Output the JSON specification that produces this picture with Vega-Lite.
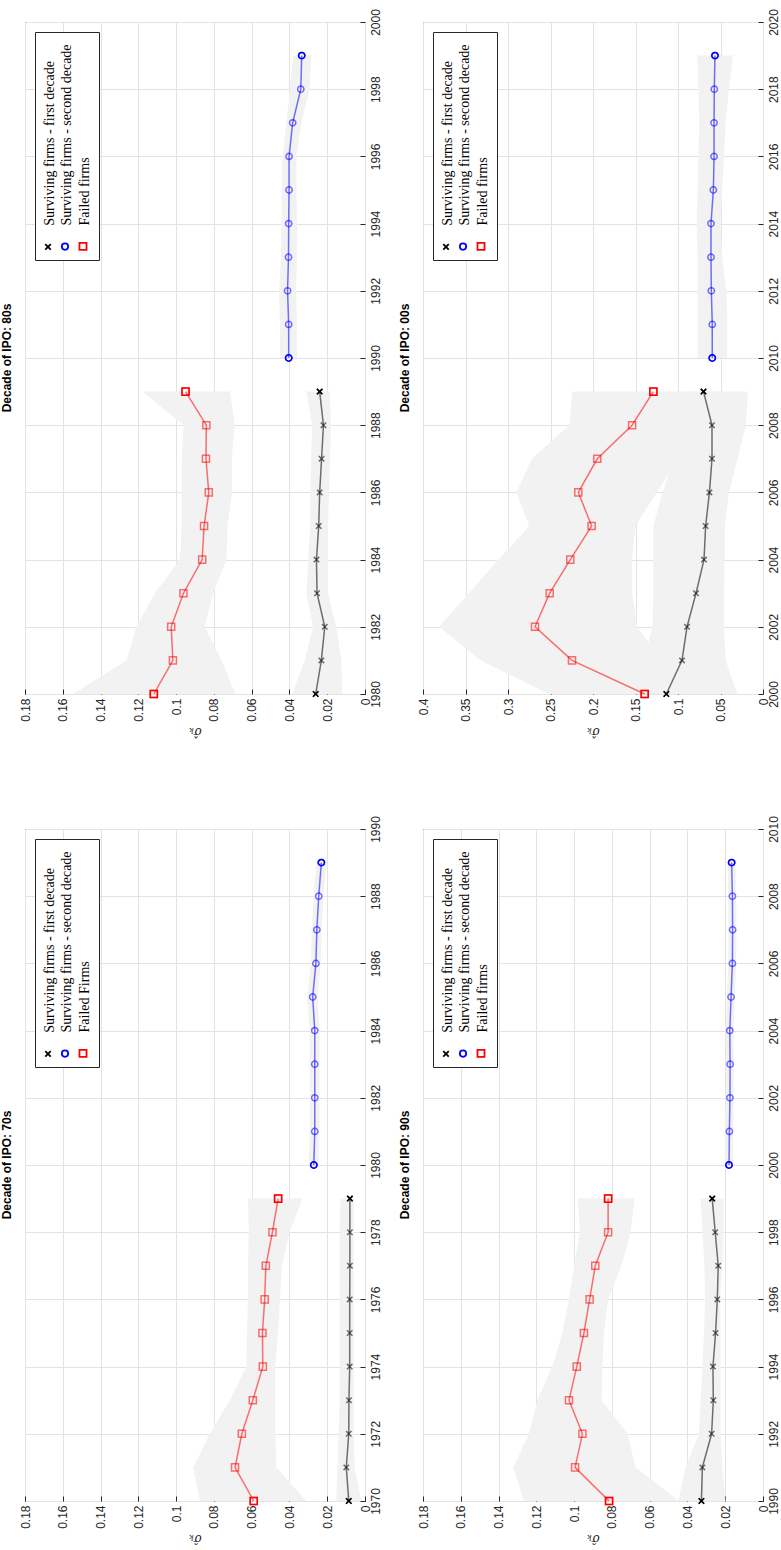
{
  "$schema": "https://vega.github.io/schema/vega-lite/v6.json",
  "background": "white",
  "padding": {"left": 0, "top": 8, "right": 0, "bottom": 0},
  "datasets": {
    "sig": [
      {"d":"70s","s":"first","year":1970,"v":0.0086,"lo":0.002,"hi":0.0152},
      {"d":"70s","s":"first","year":1971,"v":0.0099,"lo":0.0055,"hi":0.0146},
      {"d":"70s","s":"first","year":1972,"v":0.0086,"lo":0.006,"hi":0.014},
      {"d":"70s","s":"first","year":1973,"v":0.0085,"lo":0.006,"hi":0.0134},
      {"d":"70s","s":"first","year":1974,"v":0.0081,"lo":0.006,"hi":0.0134},
      {"d":"70s","s":"first","year":1975,"v":0.0081,"lo":0.006,"hi":0.0134},
      {"d":"70s","s":"first","year":1976,"v":0.0081,"lo":0.006,"hi":0.0134},
      {"d":"70s","s":"first","year":1977,"v":0.008,"lo":0.006,"hi":0.0134},
      {"d":"70s","s":"first","year":1978,"v":0.008,"lo":0.006,"hi":0.0134},
      {"d":"70s","s":"first","year":1979,"v":0.008,"lo":0.006,"hi":0.013},
      {"d":"70s","s":"second","year":1980,"v":0.0271,"lo":0.0245,"hi":0.0298},
      {"d":"70s","s":"second","year":1981,"v":0.0266,"lo":0.024,"hi":0.0293},
      {"d":"70s","s":"second","year":1982,"v":0.0266,"lo":0.024,"hi":0.0293},
      {"d":"70s","s":"second","year":1983,"v":0.0266,"lo":0.024,"hi":0.0293},
      {"d":"70s","s":"second","year":1984,"v":0.0266,"lo":0.024,"hi":0.0293},
      {"d":"70s","s":"second","year":1985,"v":0.0277,"lo":0.025,"hi":0.0305},
      {"d":"70s","s":"second","year":1986,"v":0.026,"lo":0.0235,"hi":0.0287},
      {"d":"70s","s":"second","year":1987,"v":0.0255,"lo":0.023,"hi":0.0282},
      {"d":"70s","s":"second","year":1988,"v":0.0245,"lo":0.022,"hi":0.0272},
      {"d":"70s","s":"second","year":1989,"v":0.0231,"lo":0.0205,"hi":0.0258},
      {"d":"70s","s":"failed","year":1970,"v":0.0589,"lo":0.031,"hi":0.0874},
      {"d":"70s","s":"failed","year":1971,"v":0.0688,"lo":0.0469,"hi":0.091},
      {"d":"70s","s":"failed","year":1972,"v":0.0652,"lo":0.0476,"hi":0.0822},
      {"d":"70s","s":"failed","year":1973,"v":0.0594,"lo":0.0476,"hi":0.0716},
      {"d":"70s","s":"failed","year":1974,"v":0.0541,"lo":0.0476,"hi":0.0628},
      {"d":"70s","s":"failed","year":1975,"v":0.0543,"lo":0.046,"hi":0.0625},
      {"d":"70s","s":"failed","year":1976,"v":0.0531,"lo":0.0451,"hi":0.062},
      {"d":"70s","s":"failed","year":1977,"v":0.0525,"lo":0.044,"hi":0.062},
      {"d":"70s","s":"failed","year":1978,"v":0.049,"lo":0.04,"hi":0.0615},
      {"d":"70s","s":"failed","year":1979,"v":0.046,"lo":0.033,"hi":0.062},

      {"d":"80s","s":"first","year":1980,"v":0.0261,"lo":0.012,"hi":0.0384},
      {"d":"80s","s":"first","year":1981,"v":0.0231,"lo":0.0125,"hi":0.0319},
      {"d":"80s","s":"first","year":1982,"v":0.0213,"lo":0.0152,"hi":0.0275},
      {"d":"80s","s":"first","year":1983,"v":0.0254,"lo":0.0196,"hi":0.031},
      {"d":"80s","s":"first","year":1984,"v":0.0257,"lo":0.0196,"hi":0.0301},
      {"d":"80s","s":"first","year":1985,"v":0.0245,"lo":0.0196,"hi":0.029},
      {"d":"80s","s":"first","year":1986,"v":0.024,"lo":0.019,"hi":0.029},
      {"d":"80s","s":"first","year":1987,"v":0.023,"lo":0.0185,"hi":0.0285},
      {"d":"80s","s":"first","year":1988,"v":0.022,"lo":0.018,"hi":0.028},
      {"d":"80s","s":"first","year":1989,"v":0.024,"lo":0.0187,"hi":0.031},
      {"d":"80s","s":"second","year":1990,"v":0.0404,"lo":0.036,"hi":0.045},
      {"d":"80s","s":"second","year":1991,"v":0.0404,"lo":0.036,"hi":0.045},
      {"d":"80s","s":"second","year":1992,"v":0.041,"lo":0.0365,"hi":0.0455},
      {"d":"80s","s":"second","year":1993,"v":0.0405,"lo":0.036,"hi":0.0445},
      {"d":"80s","s":"second","year":1994,"v":0.0404,"lo":0.036,"hi":0.0442},
      {"d":"80s","s":"second","year":1995,"v":0.0402,"lo":0.0363,"hi":0.0442},
      {"d":"80s","s":"second","year":1996,"v":0.0402,"lo":0.0363,"hi":0.0437},
      {"d":"80s","s":"second","year":1997,"v":0.0383,"lo":0.0337,"hi":0.0416},
      {"d":"80s","s":"second","year":1998,"v":0.034,"lo":0.0293,"hi":0.0398},
      {"d":"80s","s":"second","year":1999,"v":0.0335,"lo":0.0284,"hi":0.0381},
      {"d":"80s","s":"failed","year":1980,"v":0.1118,"lo":0.0686,"hi":0.1544},
      {"d":"80s","s":"failed","year":1981,"v":0.1017,"lo":0.076,"hi":0.1262},
      {"d":"80s","s":"failed","year":1982,"v":0.1026,"lo":0.0848,"hi":0.121},
      {"d":"80s","s":"failed","year":1983,"v":0.0961,"lo":0.0804,"hi":0.1112},
      {"d":"80s","s":"failed","year":1984,"v":0.0862,"lo":0.0733,"hi":0.098},
      {"d":"80s","s":"failed","year":1985,"v":0.0852,"lo":0.0728,"hi":0.097},
      {"d":"80s","s":"failed","year":1986,"v":0.0827,"lo":0.0705,"hi":0.097},
      {"d":"80s","s":"failed","year":1987,"v":0.0842,"lo":0.0705,"hi":0.097},
      {"d":"80s","s":"failed","year":1988,"v":0.084,"lo":0.069,"hi":0.096},
      {"d":"80s","s":"failed","year":1989,"v":0.095,"lo":0.0715,"hi":0.118},

      {"d":"90s","s":"first","year":1990,"v":0.0326,"lo":0.0198,"hi":0.0448},
      {"d":"90s","s":"first","year":1991,"v":0.0321,"lo":0.0215,"hi":0.041},
      {"d":"90s","s":"first","year":1992,"v":0.0272,"lo":0.0224,"hi":0.0339},
      {"d":"90s","s":"first","year":1993,"v":0.0263,"lo":0.0224,"hi":0.033},
      {"d":"90s","s":"first","year":1994,"v":0.0265,"lo":0.0224,"hi":0.0321},
      {"d":"90s","s":"first","year":1995,"v":0.0251,"lo":0.0224,"hi":0.0312},
      {"d":"90s","s":"first","year":1996,"v":0.0242,"lo":0.0227,"hi":0.0307},
      {"d":"90s","s":"first","year":1997,"v":0.0237,"lo":0.0215,"hi":0.031},
      {"d":"90s","s":"first","year":1998,"v":0.0253,"lo":0.021,"hi":0.032},
      {"d":"90s","s":"first","year":1999,"v":0.0269,"lo":0.021,"hi":0.033},
      {"d":"90s","s":"second","year":2000,"v":0.018,"lo":0.016,"hi":0.0202},
      {"d":"90s","s":"second","year":2001,"v":0.0178,"lo":0.0158,"hi":0.02},
      {"d":"90s","s":"second","year":2002,"v":0.0175,"lo":0.0155,"hi":0.0197},
      {"d":"90s","s":"second","year":2003,"v":0.0174,"lo":0.0154,"hi":0.0196},
      {"d":"90s","s":"second","year":2004,"v":0.0176,"lo":0.0156,"hi":0.0198},
      {"d":"90s","s":"second","year":2005,"v":0.0169,"lo":0.0149,"hi":0.0191},
      {"d":"90s","s":"second","year":2006,"v":0.0162,"lo":0.0142,"hi":0.0184},
      {"d":"90s","s":"second","year":2007,"v":0.0161,"lo":0.0141,"hi":0.0183},
      {"d":"90s","s":"second","year":2008,"v":0.0162,"lo":0.0142,"hi":0.0184},
      {"d":"90s","s":"second","year":2009,"v":0.0166,"lo":0.0146,"hi":0.0188},
      {"d":"90s","s":"failed","year":1990,"v":0.0815,"lo":0.0445,"hi":0.1265},
      {"d":"90s","s":"failed","year":1991,"v":0.0995,"lo":0.0674,"hi":0.1322},
      {"d":"90s","s":"failed","year":1992,"v":0.0956,"lo":0.0718,"hi":0.1239},
      {"d":"90s","s":"failed","year":1993,"v":0.1027,"lo":0.0854,"hi":0.1195},
      {"d":"90s","s":"failed","year":1994,"v":0.0986,"lo":0.085,"hi":0.1115},
      {"d":"90s","s":"failed","year":1995,"v":0.0948,"lo":0.0842,"hi":0.1062},
      {"d":"90s","s":"failed","year":1996,"v":0.0918,"lo":0.0819,"hi":0.1027},
      {"d":"90s","s":"failed","year":1997,"v":0.0888,"lo":0.075,"hi":0.1},
      {"d":"90s","s":"failed","year":1998,"v":0.082,"lo":0.07,"hi":0.097},
      {"d":"90s","s":"failed","year":1999,"v":0.082,"lo":0.068,"hi":0.098},

      {"d":"00s","s":"first","year":2000,"v":0.1137,"lo":0.03,"hi":0.16},
      {"d":"00s","s":"first","year":2001,"v":0.0953,"lo":0.044,"hi":0.14},
      {"d":"00s","s":"first","year":2002,"v":0.0894,"lo":0.046,"hi":0.13},
      {"d":"00s","s":"first","year":2003,"v":0.0788,"lo":0.046,"hi":0.129},
      {"d":"00s","s":"first","year":2004,"v":0.0694,"lo":0.045,"hi":0.129},
      {"d":"00s","s":"first","year":2005,"v":0.0675,"lo":0.045,"hi":0.129},
      {"d":"00s","s":"first","year":2006,"v":0.063,"lo":0.04,"hi":0.118},
      {"d":"00s","s":"first","year":2007,"v":0.06,"lo":0.03,"hi":0.105},
      {"d":"00s","s":"first","year":2008,"v":0.06,"lo":0.02,"hi":0.095},
      {"d":"00s","s":"first","year":2009,"v":0.07,"lo":0.018,"hi":0.095},
      {"d":"00s","s":"second","year":2010,"v":0.0597,"lo":0.042,"hi":0.077},
      {"d":"00s","s":"second","year":2011,"v":0.0597,"lo":0.042,"hi":0.077},
      {"d":"00s","s":"second","year":2012,"v":0.0608,"lo":0.043,"hi":0.077},
      {"d":"00s","s":"second","year":2013,"v":0.0612,"lo":0.048,"hi":0.077},
      {"d":"00s","s":"second","year":2014,"v":0.0612,"lo":0.05,"hi":0.078},
      {"d":"00s","s":"second","year":2015,"v":0.0584,"lo":0.048,"hi":0.077},
      {"d":"00s","s":"second","year":2016,"v":0.0576,"lo":0.046,"hi":0.076},
      {"d":"00s","s":"second","year":2017,"v":0.0576,"lo":0.044,"hi":0.075},
      {"d":"00s","s":"second","year":2018,"v":0.0573,"lo":0.04,"hi":0.076},
      {"d":"00s","s":"second","year":2019,"v":0.0565,"lo":0.0353,"hi":0.0773},
      {"d":"00s","s":"failed","year":2000,"v":0.1392,"lo":0.1,"hi":0.252},
      {"d":"00s","s":"failed","year":2001,"v":0.2247,"lo":0.12,"hi":0.332},
      {"d":"00s","s":"failed","year":2002,"v":0.2682,"lo":0.148,"hi":0.381},
      {"d":"00s","s":"failed","year":2003,"v":0.251,"lo":0.154,"hi":0.346},
      {"d":"00s","s":"failed","year":2004,"v":0.2267,"lo":0.154,"hi":0.311},
      {"d":"00s","s":"failed","year":2005,"v":0.2016,"lo":0.15,"hi":0.275},
      {"d":"00s","s":"failed","year":2006,"v":0.2173,"lo":0.125,"hi":0.29},
      {"d":"00s","s":"failed","year":2007,"v":0.195,"lo":0.1,"hi":0.272},
      {"d":"00s","s":"failed","year":2008,"v":0.154,"lo":0.07,"hi":0.228},
      {"d":"00s","s":"failed","year":2009,"v":0.129,"lo":0.05,"hi":0.224}
    ]
  },
  "data": {"name": "sig"},
  "spacing": 16,
  "resolve": {"scale": {"color": "independent", "shape": "independent", "size": "independent"}, "legend": {"color": "independent"}},
  "hconcat": [
    {
      "spacing": 77,
      "resolve": {"scale": {"color": "independent", "shape": "independent", "size": "independent"}, "legend": {"color": "independent"}},
      "vconcat": [
        {
          "width": 340, "height": 672,
          "title": {"text": "Decade of IPO: 80s"},
          "transform": [{"filter": "datum.d == '80s'"}],
          "encoding": {
            "y": {"field": "year", "type": "quantitative", "scale": {"domain": [1980, 2000], "nice": false, "zero": false}, "axis": {"orient": "right", "values": [1980,1982,1984,1986,1988,1990,1992,1994,1996,1998,2000], "format": "d", "title": null}},
            "color": {"field": "s", "type": "nominal", "scale": {"domain": ["first","second","failed"], "range": ["#000000","#0000ff","#ff0000"]},
              "legend": {"title": "\u00a0", "labelExpr": "datum.value == 'first' ? '\u200b\u00a0\u00a0\u00a0\u00a0\u00a0\u00a0Surviving firms - first decade' : datum.value == 'second' ? '\u200b\u00a0\u00a0\u00a0\u00a0\u00a0\u00a0Surviving firms - second decade' : '\u200b\u00a0\u00a0\u00a0\u00a0\u00a0\u00a0Failed firms'"}}
          },
          "layer": [
            {"mark": {"type": "area", "orient": "horizontal", "opacity": 1, "fill": "#f2f2f2"},
             "encoding": {"x": {"field": "lo", "type": "quantitative", "stack": null, "scale": {"domain": [0, 0.18], "reverse": true, "nice": false}, "axis": {"values": [0,0.02,0.04,0.06,0.08,0.1,0.12,0.14,0.16,0.18], "title": "σ̂ₖ"}},
               "x2": {"field": "hi"}, "color": {"value": "#f2f2f2"}, "detail": {"field": "s"}}},
            {"mark": {"type": "line", "strokeWidth": 1.5, "opacity": 0.55},
             "encoding": {"x": {"field": "v", "type": "quantitative", "scale": {"domain": [0, 0.18], "reverse": true, "nice": false}, "axis": {"values": [0,0.02,0.04,0.06,0.08,0.1,0.12,0.14,0.16,0.18], "title": "σ̂ₖ"}}, "order": {"field": "year"}}},
            {"mark": {"type": "point", "filled": false, "strokeWidth": 1.5, "opacity": 0.55},
             "encoding": {"x": {"field": "v", "type": "quantitative", "scale": {"domain": [0, 0.18], "reverse": true, "nice": false}, "axis": {"values": [0,0.02,0.04,0.06,0.08,0.1,0.12,0.14,0.16,0.18], "title": "σ̂ₖ"}},
               "shape": {"field": "s", "scale": {"domain": ["first","second","failed"], "range": ["M-1,-1L1,1M-1,1L1,-1","circle","square"]}, "legend": null},
               "size": {"field": "s", "scale": {"domain": ["first","second","failed"], "range": [30,50,30]}, "legend": null}}},
            {"transform": [{"joinaggregate": [{"op": "min", "field": "year", "as": "y0"}, {"op": "max", "field": "year", "as": "y1"}], "groupby": ["s"]}, {"filter": "datum.year == datum.y0 || datum.year == datum.y1"}],
             "mark": {"type": "point", "filled": false, "strokeWidth": 1.5, "opacity": 1},
             "encoding": {"x": {"field": "v", "type": "quantitative", "scale": {"domain": [0, 0.18], "reverse": true, "nice": false}, "axis": {"values": [0,0.02,0.04,0.06,0.08,0.1,0.12,0.14,0.16,0.18], "title": "σ̂ₖ"}},
               "shape": {"field": "s", "scale": {"domain": ["first","second","failed"], "range": ["M-1,-1L1,1M-1,1L1,-1","circle","square"]}, "legend": null},
               "size": {"field": "s", "scale": {"domain": ["first","second","failed"], "range": [30,50,30]}, "legend": null}}}
          ]
        },
        {
          "width": 340, "height": 672,
          "title": {"text": "Decade of IPO: 70s"},
          "transform": [{"filter": "datum.d == '70s'"}],
          "encoding": {
            "y": {"field": "year", "type": "quantitative", "scale": {"domain": [1970, 1990], "nice": false, "zero": false}, "axis": {"orient": "right", "values": [1970,1972,1974,1976,1978,1980,1982,1984,1986,1988,1990], "format": "d", "title": null}},
            "color": {"field": "s", "type": "nominal", "scale": {"domain": ["first","second","failed"], "range": ["#000000","#0000ff","#ff0000"]},
              "legend": {"title": "\u00a0", "labelExpr": "datum.value == 'first' ? '\u200b\u00a0\u00a0\u00a0\u00a0\u00a0\u00a0Surviving firms - first decade' : datum.value == 'second' ? '\u200b\u00a0\u00a0\u00a0\u00a0\u00a0\u00a0Surviving firms - second decade' : '\u200b\u00a0\u00a0\u00a0\u00a0\u00a0\u00a0Failed Firms'"}}
          },
          "layer": [
            {"mark": {"type": "area", "orient": "horizontal", "opacity": 1, "fill": "#f2f2f2"},
             "encoding": {"x": {"field": "lo", "type": "quantitative", "stack": null, "scale": {"domain": [0, 0.18], "reverse": true, "nice": false}, "axis": {"values": [0,0.02,0.04,0.06,0.08,0.1,0.12,0.14,0.16,0.18], "title": "σ̂ₖ"}},
               "x2": {"field": "hi"}, "color": {"value": "#f2f2f2"}, "detail": {"field": "s"}}},
            {"mark": {"type": "line", "strokeWidth": 1.5, "opacity": 0.55},
             "encoding": {"x": {"field": "v", "type": "quantitative", "scale": {"domain": [0, 0.18], "reverse": true, "nice": false}, "axis": {"values": [0,0.02,0.04,0.06,0.08,0.1,0.12,0.14,0.16,0.18], "title": "σ̂ₖ"}}, "order": {"field": "year"}}},
            {"mark": {"type": "point", "filled": false, "strokeWidth": 1.5, "opacity": 0.55},
             "encoding": {"x": {"field": "v", "type": "quantitative", "scale": {"domain": [0, 0.18], "reverse": true, "nice": false}, "axis": {"values": [0,0.02,0.04,0.06,0.08,0.1,0.12,0.14,0.16,0.18], "title": "σ̂ₖ"}},
               "shape": {"field": "s", "scale": {"domain": ["first","second","failed"], "range": ["M-1,-1L1,1M-1,1L1,-1","circle","square"]}, "legend": null},
               "size": {"field": "s", "scale": {"domain": ["first","second","failed"], "range": [30,50,30]}, "legend": null}}},
            {"transform": [{"joinaggregate": [{"op": "min", "field": "year", "as": "y0"}, {"op": "max", "field": "year", "as": "y1"}], "groupby": ["s"]}, {"filter": "datum.year == datum.y0 || datum.year == datum.y1"}],
             "mark": {"type": "point", "filled": false, "strokeWidth": 1.5, "opacity": 1},
             "encoding": {"x": {"field": "v", "type": "quantitative", "scale": {"domain": [0, 0.18], "reverse": true, "nice": false}, "axis": {"values": [0,0.02,0.04,0.06,0.08,0.1,0.12,0.14,0.16,0.18], "title": "σ̂ₖ"}},
               "shape": {"field": "s", "scale": {"domain": ["first","second","failed"], "range": ["M-1,-1L1,1M-1,1L1,-1","circle","square"]}, "legend": null},
               "size": {"field": "s", "scale": {"domain": ["first","second","failed"], "range": [30,50,30]}, "legend": null}}}
          ]
        }
      ]
    },
    {
      "spacing": 77,
      "resolve": {"scale": {"color": "independent", "shape": "independent", "size": "independent"}, "legend": {"color": "independent"}},
      "vconcat": [
        {
          "width": 340, "height": 672,
          "title": {"text": "Decade of IPO: 00s"},
          "transform": [{"filter": "datum.d == '00s'"}],
          "encoding": {
            "y": {"field": "year", "type": "quantitative", "scale": {"domain": [2000, 2020], "nice": false, "zero": false}, "axis": {"orient": "right", "values": [2000,2002,2004,2006,2008,2010,2012,2014,2016,2018,2020], "format": "d", "title": null}},
            "color": {"field": "s", "type": "nominal", "scale": {"domain": ["first","second","failed"], "range": ["#000000","#0000ff","#ff0000"]},
              "legend": {"title": "\u00a0", "labelExpr": "datum.value == 'first' ? '\u200b\u00a0\u00a0\u00a0\u00a0\u00a0\u00a0Surviving firms - first decade' : datum.value == 'second' ? '\u200b\u00a0\u00a0\u00a0\u00a0\u00a0\u00a0Surviving firms - second decade' : '\u200b\u00a0\u00a0\u00a0\u00a0\u00a0\u00a0Failed firms'"}}
          },
          "layer": [
            {"mark": {"type": "area", "orient": "horizontal", "opacity": 1, "fill": "#f2f2f2"},
             "encoding": {"x": {"field": "lo", "type": "quantitative", "stack": null, "scale": {"domain": [0, 0.4], "reverse": true, "nice": false}, "axis": {"values": [0,0.05,0.1,0.15,0.2,0.25,0.3,0.35,0.4], "title": "σ̂ₖ"}},
               "x2": {"field": "hi"}, "color": {"value": "#f2f2f2"}, "detail": {"field": "s"}}},
            {"mark": {"type": "line", "strokeWidth": 1.5, "opacity": 0.55},
             "encoding": {"x": {"field": "v", "type": "quantitative", "scale": {"domain": [0, 0.4], "reverse": true, "nice": false}, "axis": {"values": [0,0.05,0.1,0.15,0.2,0.25,0.3,0.35,0.4], "title": "σ̂ₖ"}}, "order": {"field": "year"}}},
            {"mark": {"type": "point", "filled": false, "strokeWidth": 1.5, "opacity": 0.55},
             "encoding": {"x": {"field": "v", "type": "quantitative", "scale": {"domain": [0, 0.4], "reverse": true, "nice": false}, "axis": {"values": [0,0.05,0.1,0.15,0.2,0.25,0.3,0.35,0.4], "title": "σ̂ₖ"}},
               "shape": {"field": "s", "scale": {"domain": ["first","second","failed"], "range": ["M-1,-1L1,1M-1,1L1,-1","circle","square"]}, "legend": null},
               "size": {"field": "s", "scale": {"domain": ["first","second","failed"], "range": [30,50,30]}, "legend": null}}},
            {"transform": [{"joinaggregate": [{"op": "min", "field": "year", "as": "y0"}, {"op": "max", "field": "year", "as": "y1"}], "groupby": ["s"]}, {"filter": "datum.year == datum.y0 || datum.year == datum.y1"}],
             "mark": {"type": "point", "filled": false, "strokeWidth": 1.5, "opacity": 1},
             "encoding": {"x": {"field": "v", "type": "quantitative", "scale": {"domain": [0, 0.4], "reverse": true, "nice": false}, "axis": {"values": [0,0.05,0.1,0.15,0.2,0.25,0.3,0.35,0.4], "title": "σ̂ₖ"}},
               "shape": {"field": "s", "scale": {"domain": ["first","second","failed"], "range": ["M-1,-1L1,1M-1,1L1,-1","circle","square"]}, "legend": null},
               "size": {"field": "s", "scale": {"domain": ["first","second","failed"], "range": [30,50,30]}, "legend": null}}}
          ]
        },
        {
          "width": 340, "height": 672,
          "title": {"text": "Decade of IPO: 90s"},
          "transform": [{"filter": "datum.d == '90s'"}],
          "encoding": {
            "y": {"field": "year", "type": "quantitative", "scale": {"domain": [1990, 2010], "nice": false, "zero": false}, "axis": {"orient": "right", "values": [1990,1992,1994,1996,1998,2000,2002,2004,2006,2008,2010], "format": "d", "title": null}},
            "color": {"field": "s", "type": "nominal", "scale": {"domain": ["first","second","failed"], "range": ["#000000","#0000ff","#ff0000"]},
              "legend": {"title": "\u00a0", "labelExpr": "datum.value == 'first' ? '\u200b\u00a0\u00a0\u00a0\u00a0\u00a0\u00a0Surviving firms - first decade' : datum.value == 'second' ? '\u200b\u00a0\u00a0\u00a0\u00a0\u00a0\u00a0Surviving firms - second decade' : '\u200b\u00a0\u00a0\u00a0\u00a0\u00a0\u00a0Failed firms'"}}
          },
          "layer": [
            {"mark": {"type": "area", "orient": "horizontal", "opacity": 1, "fill": "#f2f2f2"},
             "encoding": {"x": {"field": "lo", "type": "quantitative", "stack": null, "scale": {"domain": [0, 0.18], "reverse": true, "nice": false}, "axis": {"values": [0,0.02,0.04,0.06,0.08,0.1,0.12,0.14,0.16,0.18], "title": "σ̂ₖ"}},
               "x2": {"field": "hi"}, "color": {"value": "#f2f2f2"}, "detail": {"field": "s"}}},
            {"mark": {"type": "line", "strokeWidth": 1.5, "opacity": 0.55},
             "encoding": {"x": {"field": "v", "type": "quantitative", "scale": {"domain": [0, 0.18], "reverse": true, "nice": false}, "axis": {"values": [0,0.02,0.04,0.06,0.08,0.1,0.12,0.14,0.16,0.18], "title": "σ̂ₖ"}}, "order": {"field": "year"}}},
            {"mark": {"type": "point", "filled": false, "strokeWidth": 1.5, "opacity": 0.55},
             "encoding": {"x": {"field": "v", "type": "quantitative", "scale": {"domain": [0, 0.18], "reverse": true, "nice": false}, "axis": {"values": [0,0.02,0.04,0.06,0.08,0.1,0.12,0.14,0.16,0.18], "title": "σ̂ₖ"}},
               "shape": {"field": "s", "scale": {"domain": ["first","second","failed"], "range": ["M-1,-1L1,1M-1,1L1,-1","circle","square"]}, "legend": null},
               "size": {"field": "s", "scale": {"domain": ["first","second","failed"], "range": [30,50,30]}, "legend": null}}},
            {"transform": [{"joinaggregate": [{"op": "min", "field": "year", "as": "y0"}, {"op": "max", "field": "year", "as": "y1"}], "groupby": ["s"]}, {"filter": "datum.year == datum.y0 || datum.year == datum.y1"}],
             "mark": {"type": "point", "filled": false, "strokeWidth": 1.5, "opacity": 1},
             "encoding": {"x": {"field": "v", "type": "quantitative", "scale": {"domain": [0, 0.18], "reverse": true, "nice": false}, "axis": {"values": [0,0.02,0.04,0.06,0.08,0.1,0.12,0.14,0.16,0.18], "title": "σ̂ₖ"}},
               "shape": {"field": "s", "scale": {"domain": ["first","second","failed"], "range": ["M-1,-1L1,1M-1,1L1,-1","circle","square"]}, "legend": null},
               "size": {"field": "s", "scale": {"domain": ["first","second","failed"], "range": [30,50,30]}, "legend": null}}}
          ]
        }
      ]
    }
  ],
  "config": {
    "font": "Liberation Sans",
    "style": {"guide-label": {"angle": -90}},
    "view": {"stroke": "#262626", "strokeWidth": 1},
    "axis": {"labelFont": "Liberation Sans", "labelFontSize": 12, "labelColor": "#262626", "grid": true, "gridColor": "#e3e3e3", "gridWidth": 1, "domain": false, "ticks": true, "tickColor": "#262626", "tickSize": -5, "zindex": 1,
      "titleFont": "DejaVu Serif", "titleFontStyle": "italic", "titleFontWeight": "normal", "titleFontSize": 12, "titleColor": "#262626"},
    "axisBottom": {"labelAngle": -90, "titleAngle": 180, "titleBaseline": "bottom", "labelPadding": 9, "titlePadding": 3, "format": "~g"},
    "axisRight": {"labelAngle": -90, "labelPadding": 10},
    "title": {"font": "Liberation Sans", "fontSize": 12, "fontWeight": "bold", "color": "#000000", "orient": "left", "anchor": "middle", "offset": 5},
    "legend": {"orient": "none", "legendX": 10, "legendY": 10, "direction": "horizontal", "columns": 3,
      "titleFontSize": 1, "titlePadding": 200, "titleLimit": 0,
      "labelFont": "Liberation Serif", "labelFontSize": 14, "labelColor": "#000000", "labelLimit": 0, "labelOffset": -5, "labelAlign": "left", "labelBaseline": "middle",
      "symbolStrokeWidth": 1.8, "symbolOpacity": 1, "strokeColor": "#262626", "fillColor": "white", "padding": 6, "columnPadding": 0, "rowPadding": 0}
  }
}
